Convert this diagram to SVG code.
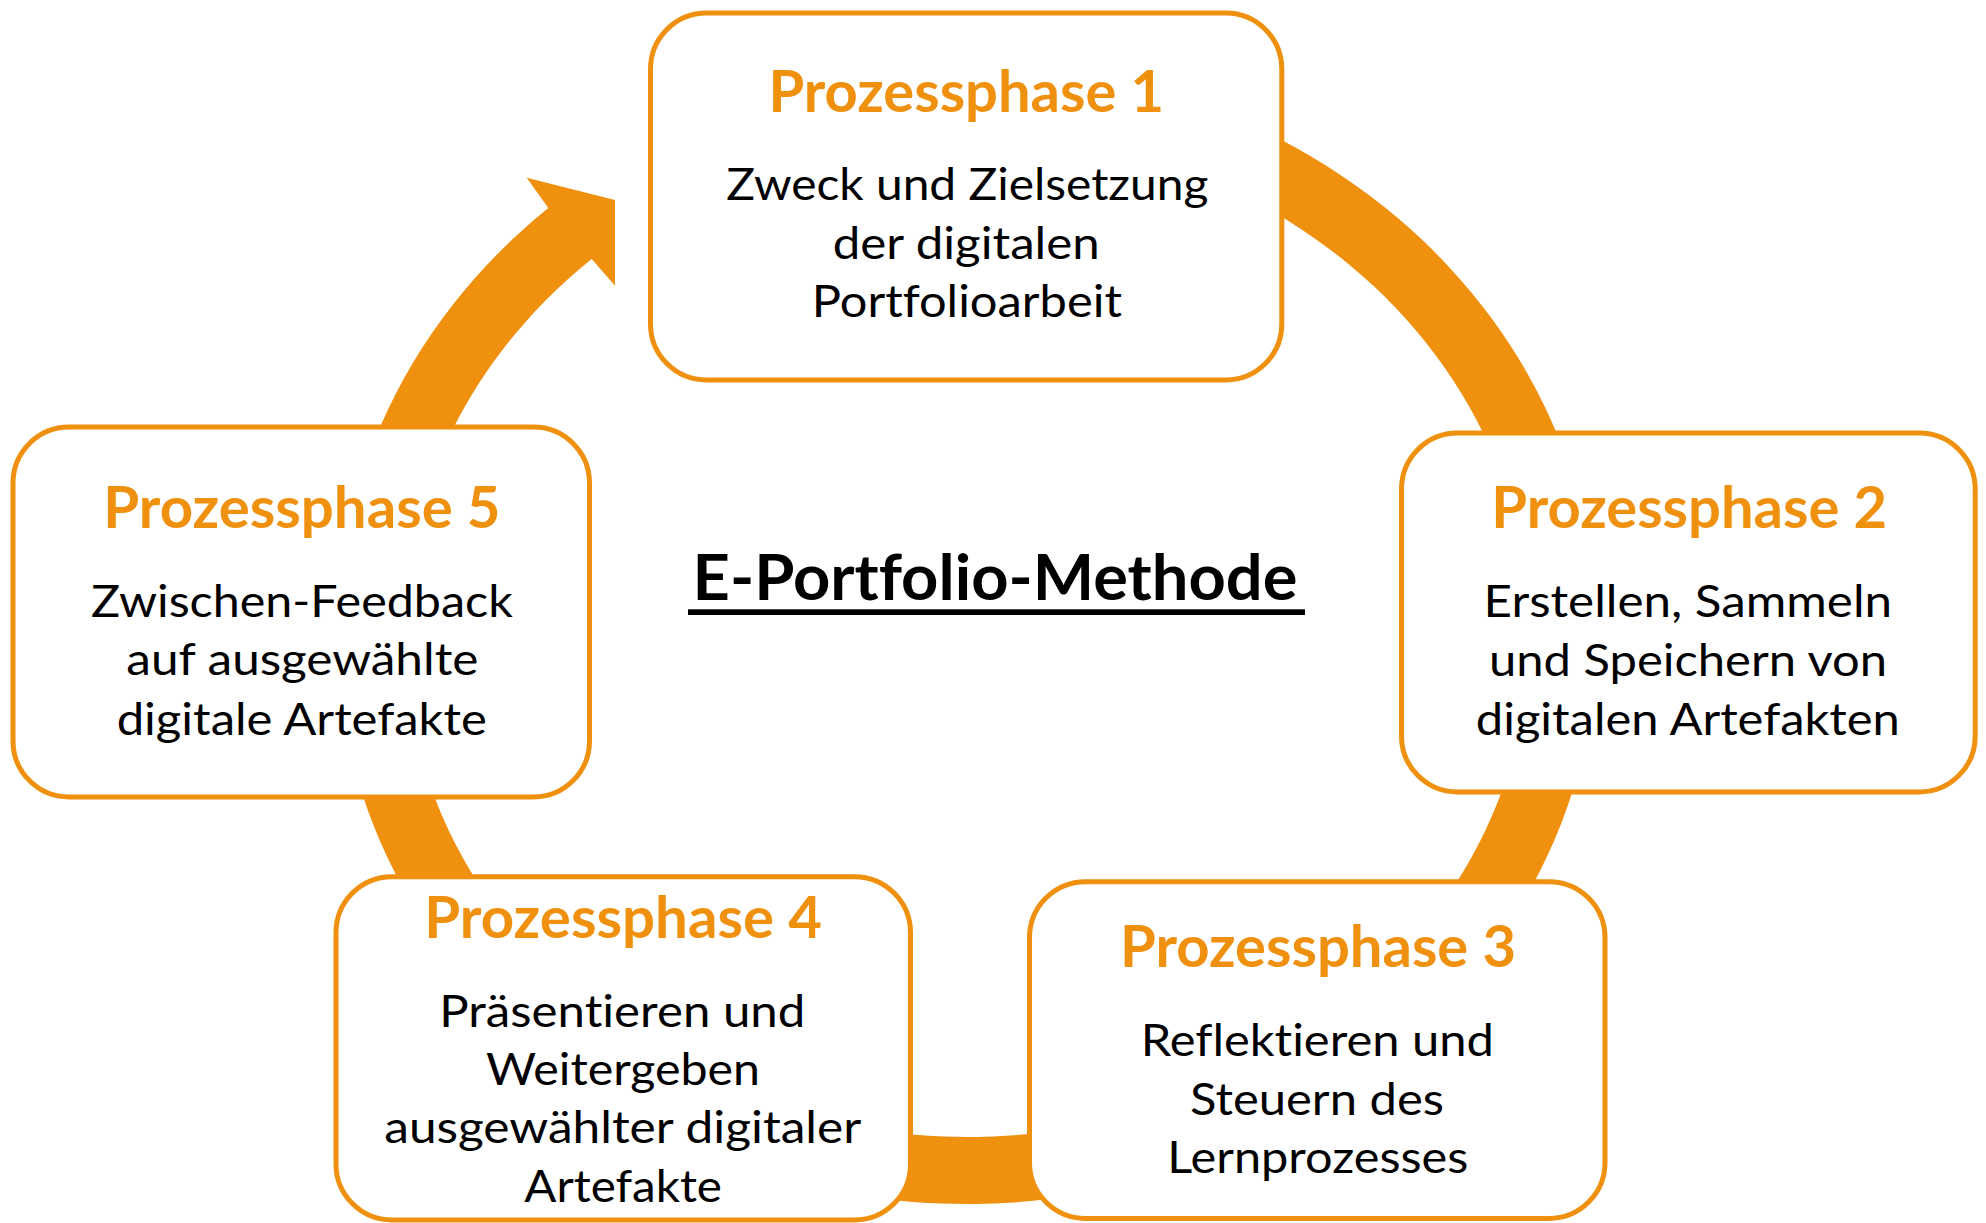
<svg xmlns="http://www.w3.org/2000/svg" width="1986" height="1223" viewBox="0 0 1986 1223">
  <style>
    text { font-variant-ligatures: none; font-feature-settings: "liga" 0, "clig" 0, "dlig" 0; }
    .box { fill: #ffffff; stroke: #F0900F; stroke-width: 5; }
    .ring { fill: #F0900F; stroke: none; }
    .title { font-family: Lato, "Open Sans", sans-serif; font-weight: 700; font-size: 57px; fill: #F0900F; }
    .body { font-family: Lato, "Open Sans", sans-serif; font-weight: 400; font-size: 43.5px; fill: #000000; }
    .heading { font-family: Lato, "Open Sans", sans-serif; font-weight: 700; font-size: 64px; fill: #000000; }
  </style>
  <rect x="0" y="0" width="1986" height="1223" fill="#ffffff"/>

  <!-- Cycle ring with arrowhead, drawn behind the phase boxes -->
  <g id="connectors">
    <path class="ring" d="M 967 64 A 630 570 0 1 1 548.3 208.1 L 526.7 177.7 L 615 200 L 615 285.7 L 591.7 259.1 A 563 503 0 1 0 967 131 Z"/>
  </g>

  <!-- Phase 1 -->
  <g id="node-1">
    <rect class="box" x="650.5" y="13" width="631.3" height="367" rx="56" ry="56"/>
    <text class="title" x="768.4" y="111.7" textLength="395.6" lengthAdjust="spacingAndGlyphs">Prozessphase 1</text>
    <text class="body" x="726.3" y="200" textLength="482" lengthAdjust="spacingAndGlyphs">Zweck und Zielsetzung</text>
    <text class="body" x="832.8" y="259.3" textLength="266.8" lengthAdjust="spacingAndGlyphs">der digitalen</text>
    <text class="body" x="811.7" y="316.7" textLength="310.2" lengthAdjust="spacingAndGlyphs">Portfolioarbeit</text>
  </g>

  <!-- Phase 2 -->
  <g id="node-2">
    <rect class="box" x="1401.5" y="433" width="573.7" height="359" rx="56" ry="56"/>
    <text class="title" x="1491.3" y="528.3" textLength="395.7" lengthAdjust="spacingAndGlyphs">Prozessphase 2</text>
    <text class="body" x="1483.6" y="617.3" textLength="408.5" lengthAdjust="spacingAndGlyphs">Erstellen, Sammeln</text>
    <text class="body" x="1489" y="676" textLength="398" lengthAdjust="spacingAndGlyphs">und Speichern von</text>
    <text class="body" x="1475.8" y="735" textLength="424" lengthAdjust="spacingAndGlyphs">digitalen Artefakten</text>
  </g>

  <!-- Phase 3 -->
  <g id="node-3">
    <rect class="box" x="1029.5" y="881.7" width="575.5" height="336.8" rx="56" ry="56"/>
    <text class="title" x="1120" y="967.3" textLength="396" lengthAdjust="spacingAndGlyphs">Prozessphase 3</text>
    <text class="body" x="1140.7" y="1056" textLength="353.3" lengthAdjust="spacingAndGlyphs">Reflektieren und</text>
    <text class="body" x="1190" y="1115" textLength="254" lengthAdjust="spacingAndGlyphs">Steuern des</text>
    <text class="body" x="1167.3" y="1173.3" textLength="301" lengthAdjust="spacingAndGlyphs">Lernprozesses</text>
  </g>

  <!-- Phase 4 -->
  <g id="node-4">
    <rect class="box" x="336" y="876.7" width="574.5" height="343.3" rx="56" ry="56"/>
    <text class="title" x="424.3" y="938.3" textLength="397.7" lengthAdjust="spacingAndGlyphs">Prozessphase 4</text>
    <text class="body" x="439.3" y="1026.7" textLength="366" lengthAdjust="spacingAndGlyphs">Präsentieren und</text>
    <text class="body" x="486" y="1085" textLength="274" lengthAdjust="spacingAndGlyphs">Weitergeben</text>
    <text class="body" x="384.3" y="1143.3" textLength="477" lengthAdjust="spacingAndGlyphs">ausgewählter digitaler</text>
    <text class="body" x="524.3" y="1201.7" textLength="197.7" lengthAdjust="spacingAndGlyphs">Artefakte</text>
  </g>

  <!-- Phase 5 -->
  <g id="node-5">
    <rect class="box" x="13" y="427" width="576.5" height="370" rx="56" ry="56"/>
    <text class="title" x="103.3" y="528.3" textLength="397.3" lengthAdjust="spacingAndGlyphs">Prozessphase 5</text>
    <text class="body" x="91.1" y="617.3" textLength="421.7" lengthAdjust="spacingAndGlyphs">Zwischen-Feedback</text>
    <text class="body" x="126.3" y="675" textLength="352.1" lengthAdjust="spacingAndGlyphs">auf ausgewählte</text>
    <text class="body" x="116.7" y="735" textLength="370.1" lengthAdjust="spacingAndGlyphs">digitale Artefakte</text>
  </g>

  <!-- Central heading, underlined -->
  <g id="heading">
    <text class="heading" x="692.5" y="600" textLength="605" lengthAdjust="spacingAndGlyphs">E-Portfolio-Methode</text>
    <rect x="688" y="609.3" width="617" height="5.7" fill="#000000"/>
  </g>
</svg>
